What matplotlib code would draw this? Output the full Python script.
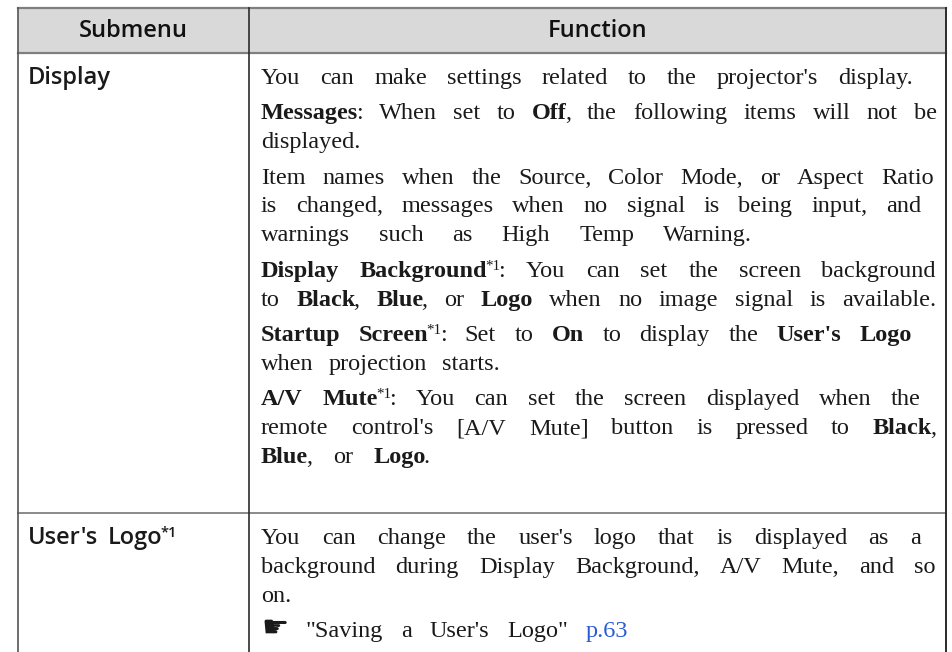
import matplotlib
matplotlib.use("Agg")
import matplotlib.pyplot as plt

# table content
headers = ["Submenu", "Function"]
submenus = ["Display", "User's Logo~*1~"]

# ** toggles bold, ~ toggles superscript, @ toggles link colour
display_lines = [
    "You can make settings related to the projector's display.",
    "**Messages**: When set to **Off**, the following items will not be",
    "displayed.",
    "Item names when the Source, Color Mode, or Aspect Ratio",
    "is changed, messages when no signal is being input, and",
    "warnings such as High Temp Warning.",
    "**Display Background**~*1~: You can set the screen background",
    "to **Black**, **Blue**, or **Logo** when no image signal is available.",
    "**Startup Screen**~*1~: Set to **On** to display the **User's Logo**",
    "when projection starts.",
    "**A/V Mute**~*1~: You can set the screen displayed when the",
    "remote control's [A/V Mute] button is pressed to **Black**,",
    "**Blue**, or **Logo**.",
]
logo_lines = [
    "You can change the user's logo that is displayed as a",
    "background during Display Background, A/V Mute, and so",
    "on.",
    "\u261b \"Saving a User's Logo\" @p.63@",
]

# layout (pixels)
W, H = 953, 652
X0, XC, X1 = 18, 249, 946
Y_TOP, Y_HEAD, Y_ROW = 8, 53, 513
TEXT_X = 261
display_base = [84, 119, 148, 184, 212, 241, 277, 306, 341, 370, 405, 434, 463]
display_right = [913, 937, 362, 934, 921, 752, 936, 936, 912, 500, 921, 936, 430]
logo_base = [544, 573, 602, 637]
logo_right = [921, 936, 292, 628]

BODY_FONT = ["Liberation Serif", "DejaVu Sans"]
SANS_FONT = ["Open Sans", "DejaVu Sans"]
FS = 17.5
LINK = "#2a5bd7"


def parse(line):
    chars = []
    bold = sup = link = False
    i = 0
    while i < len(line):
        if line.startswith("**", i):
            bold = not bold
            i += 2
            continue
        c = line[i]
        if c == "~":
            sup = not sup
        elif c == "@":
            link = not link
        else:
            chars.append((c, (bold, sup, link)))
        i += 1
    words, cur = [], []
    for c, s in chars:
        if c == " ":
            if cur:
                words.append(cur)
                cur = []
        else:
            cur.append((c, s))
    if cur:
        words.append(cur)
    out = []
    for w in words:
        runs = []
        for c, s in w:
            if runs and runs[-1][1] == s:
                runs[-1][0] += c
            else:
                runs.append([c, s])
        out.append(runs)
    return out


fig = plt.figure(figsize=(W / 100, H / 100), dpi=100)
ax = fig.add_axes([0, 0, 1, 1])
ax.set_xlim(0, W)
ax.set_ylim(H, 0)
ax.axis("off")
renderer = fig.canvas.get_renderer()


def draw_word(x, y, runs, family, fs, weight_on="bold", dry=False):
    start = x
    for k, (text, (bold, sup, link)) in enumerate(runs):
        size = fs * (0.62 if sup else 1)
        if text == "\u261b":
            size = fs * 1.25
        t = ax.text(x, y - (fs * 0.42 if sup else 0), text,
                    fontsize=size,
                    fontweight=weight_on if bold else "normal",
                    color=LINK if link else "#1a1a1a",
                    family=family, va="baseline", ha="left")
        x += t.get_window_extent(renderer).width
        if k < len(runs) - 1:
            x -= 2  # tighten joins between styled runs
        if dry:
            t.remove()
    return x - start


def draw_line(line, y, right):
    words = parse(line)
    widths = [draw_word(0, 0, w, BODY_FONT, FS, dry=True) for w in words]
    if len(words) > 1:
        gap = (right - TEXT_X - sum(widths)) / (len(words) - 1)
    else:
        gap = 0
    x = TEXT_X
    for w, wd in zip(words, widths):
        draw_word(x, y, w, BODY_FONT, FS)
        x += wd + gap


# header band and grid
ax.fill_between([X0, X1], Y_TOP, Y_HEAD, color="#d9d9d9", lw=0, zorder=0)
ax.plot([X0, X1], [Y_TOP, Y_TOP], color="#7f7f7f", lw=1.6)
ax.plot([X0, X1], [Y_HEAD, Y_HEAD], color="#7f7f7f", lw=1.6)
ax.plot([X0, X1], [Y_ROW, Y_ROW], color="#8a8a8a", lw=1.4)
ax.plot([X0, X0], [Y_TOP, H], color="#555555", lw=1.2)
ax.plot([XC, XC], [Y_TOP, H], color="#2b2b2b", lw=1.2)
ax.plot([X1, X1], [Y_TOP, H], color="#2b2b2b", lw=1.4)

ax.text((X0 + XC) / 2, 31, headers[0], fontsize=17, fontweight="semibold",
        family=SANS_FONT, ha="center", va="center", color="#111111")
ax.text((XC + X1) / 2, 31, headers[1], fontsize=17, fontweight="semibold",
        family=SANS_FONT, ha="center", va="center", color="#111111")

for label, base in zip(submenus, [display_base[0], logo_base[0]]):
    x = 28
    for w in parse(label):
        wd = draw_word(x, base, [[t, (True, s[1], s[2])] for t, s in w],
                       SANS_FONT, 17, weight_on="semibold")
        x += wd + 10

for line, y, r in zip(display_lines, display_base, display_right):
    draw_line(line, y, r)
for line, y, r in zip(logo_lines, logo_base, logo_right):
    draw_line(line, y, r)

fig.savefig("out.png", dpi=100)
